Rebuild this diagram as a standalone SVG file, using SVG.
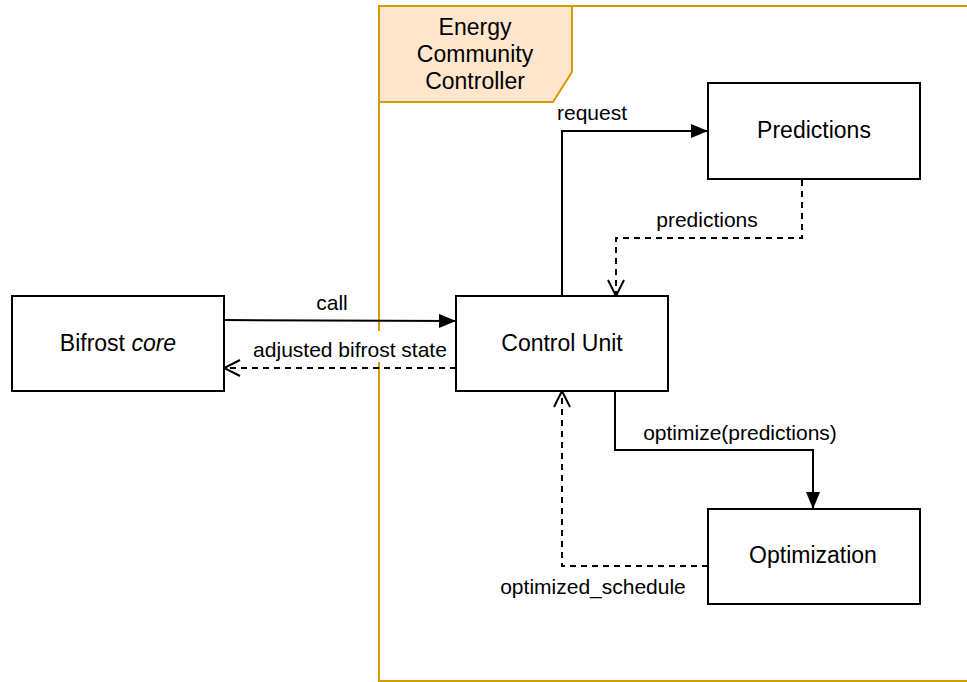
<svg xmlns="http://www.w3.org/2000/svg" width="967" height="682" viewBox="0 0 967 682">
  <style>
    .box { fill: #ffffff; stroke: #000000; stroke-width: 2; }
    .frame { fill: none; stroke: #d79b00; stroke-width: 2; }
    .tab { fill: #ffe6cc; stroke: #d79b00; stroke-width: 2; }
    .label { font-family: "Liberation Sans", Arial, sans-serif; font-size: 23px; fill: #000000; text-anchor: middle; }
    .elabel { font-family: "Liberation Sans", Arial, sans-serif; font-size: 21px; fill: #000000; text-anchor: middle; }
    .solid { fill: none; stroke: #000000; stroke-width: 2; }
    .dashed { fill: none; stroke: #000000; stroke-width: 2; stroke-dasharray: 6 5; }
  </style>
  <defs>
    <marker id="filled" viewBox="0 0 17 14" refX="17" refY="7" markerWidth="17" markerHeight="14" markerUnits="userSpaceOnUse" orient="auto">
      <path d="M0,0 L17,7 L0,14 Z" fill="#000000"/>
    </marker>
    <marker id="open" viewBox="0 0 18 18" refX="17" refY="9" markerWidth="18" markerHeight="18" markerUnits="userSpaceOnUse" orient="auto">
      <path d="M1,1 L17,9 L1,17" fill="none" stroke="#000000" stroke-width="2"/>
    </marker>
  </defs>

  <rect width="967" height="682" fill="#ffffff"/>

  <!-- Energy Community Controller frame -->
  <g id="energy-community-controller">
    <path class="frame" d="M970,6 L379,6 L379,681 L970,681"/>
    <path class="tab" d="M379,6 L572,6 L572,72 L553,102 L379,102 Z"/>
    <text class="label" x="475" y="35">Energy</text>
    <text class="label" x="475" y="62">Community</text>
    <text class="label" x="475" y="89">Controller</text>
  </g>

  <!-- connectors -->
  <g id="connectors">
    <path class="solid" d="M224,320 L456,321" marker-end="url(#filled)"/>
    <path class="dashed" d="M456,368 L224,368" marker-end="url(#open)"/>
    <path class="solid" d="M562,296 L562,131 L708,131" marker-end="url(#filled)"/>
    <path class="dashed" d="M802,180 L802,238 L616,238 L616,296" marker-end="url(#open)"/>
    <path class="solid" d="M615,391 L615,450 L813,450 L813,509" marker-end="url(#filled)"/>
    <path class="dashed" d="M708,566 L562,566 L562,391" marker-end="url(#open)"/>

    <text class="elabel" x="332" y="310">call</text>
    <rect x="248" y="331" width="204" height="31" fill="#ffffff"/>
    <text class="elabel" x="350" y="357">adjusted bifrost state</text>
    <text class="elabel" x="592" y="120">request</text>
    <text class="elabel" x="707" y="227">predictions</text>
    <text class="elabel" x="740" y="440">optimize(predictions)</text>
    <text class="elabel" x="593" y="594">optimized_schedule</text>
  </g>

  <g id="bifrost-core">
    <rect class="box" x="12" y="296" width="212" height="95"/>
    <text class="label" x="118" y="351">Bifrost <tspan font-style="italic">core</tspan></text>
  </g>

  <g id="control-unit">
    <rect class="box" x="456" y="296" width="212" height="95"/>
    <text class="label" x="562" y="351">Control Unit</text>
  </g>

  <g id="predictions">
    <rect class="box" x="708" y="83" width="212" height="96"/>
    <text class="label" x="814" y="138">Predictions</text>
  </g>

  <g id="optimization">
    <rect class="box" x="708" y="509" width="212" height="95"/>
    <text class="label" x="813" y="563">Optimization</text>
  </g>
</svg>
